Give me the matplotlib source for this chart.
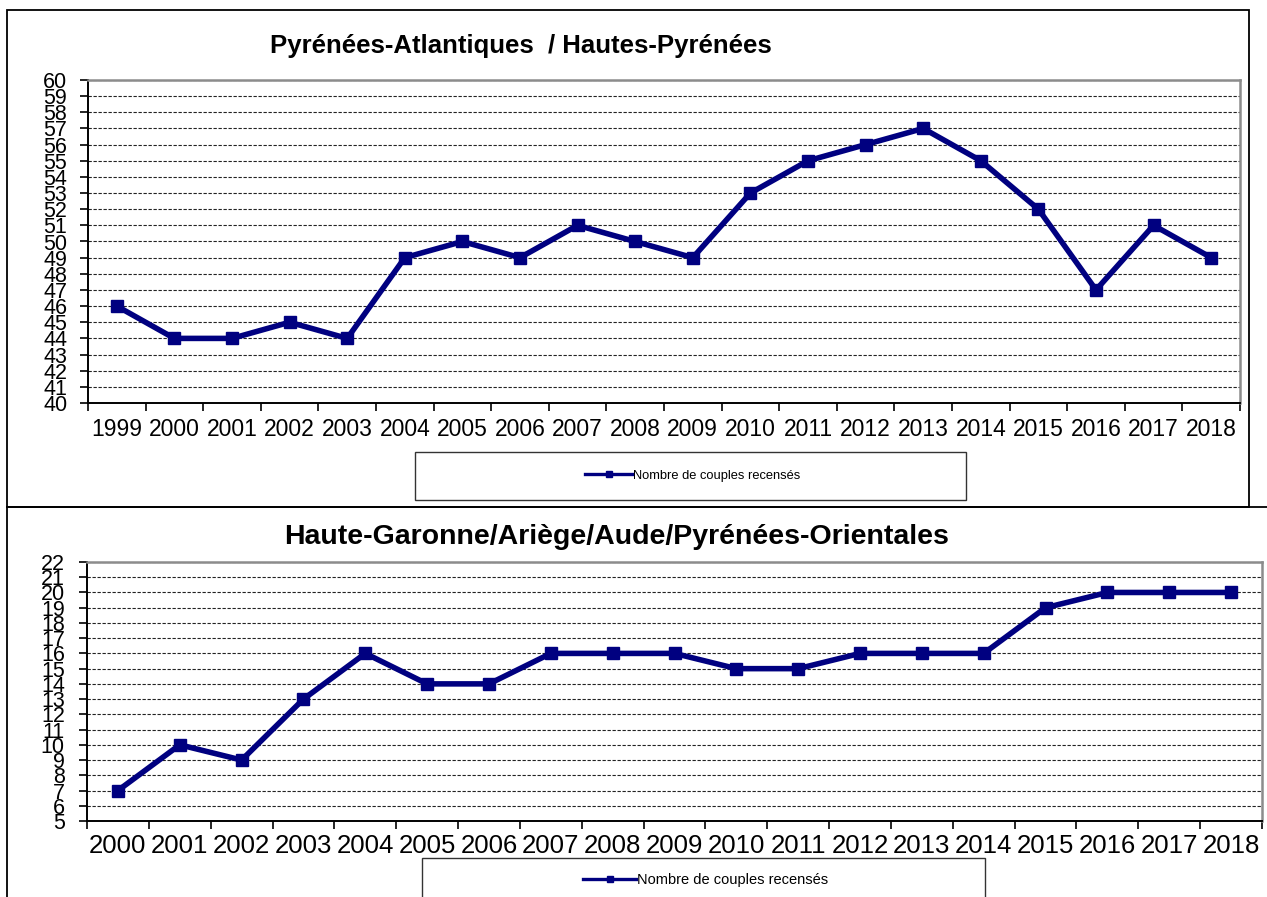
import matplotlib
matplotlib.use('Agg')
import matplotlib.pyplot as plt
from matplotlib.lines import Line2D
from matplotlib.patches import Rectangle

# data
years_top = ['1999', '2000', '2001', '2002', '2003', '2004', '2005', '2006', '2007', '2008',
             '2009', '2010', '2011', '2012', '2013', '2014', '2015', '2016', '2017', '2018']
couples_top = [46, 44, 44, 45, 44, 49, 50, 49, 51, 50, 49, 53, 55, 56, 57, 55, 52, 47, 51, 49]

years_bot = ['2000', '2001', '2002', '2003', '2004', '2005', '2006', '2007', '2008', '2009',
             '2010', '2011', '2012', '2013', '2014', '2015', '2016', '2017', '2018']
couples_bot = [7, 10, 9, 13, 16, 14, 14, 16, 16, 16, 15, 15, 16, 16, 16, 19, 20, 20, 20]

title_top = 'Pyrénées-Atlantiques  / Hautes-Pyrénées'
title_bot = 'Haute-Garonne/Ariège/Aude/Pyrénées-Orientales'
series_name = 'Nombre de couples recensés'

plt.rcParams['font.family'] = ['Liberation Sans', 'DejaVu Sans']

W, H = 1267, 897
NAVY = '#000080'
fig = plt.figure(figsize=(W / 100, H / 100), dpi=100)


def box(x0, y0, x1, y1):
    # pixel box (top-left origin) -> figure fraction rect
    return [x0 / W, 1 - y1 / H, (x1 - x0) / W, (y1 - y0) / H]


def frame(x0, y0, x1, y1, **kw):
    r = box(x0, y0, x1, y1)
    fig.add_artist(Rectangle(r[:2], r[2], r[3], transform=fig.transFigure,
                             fill=False, **kw))


def line(xs, ys, **kw):
    fig.add_artist(Line2D([x / W for x in xs], [1 - y / H for y in ys], **kw))


def draw_chart(rect, years, values, ylo, yhi, title, title_xy, title_fs,
               xfs, xpad, ypad, leg_box, leg_xy, leg_fs):
    ax = fig.add_axes(box(*rect))
    n = len(years)
    ax.plot(range(n), values, color=NAVY, lw=4, marker='s', ms=9,
            solid_joinstyle='miter', zorder=3)
    ax.set_xlim(-0.5, n - 0.5)
    ax.set_ylim(ylo, yhi)
    ax.set_yticks(range(ylo, yhi + 1))
    ax.set_yticklabels([str(v) for v in range(ylo, yhi + 1)], fontsize=15.5)
    # category ticks sit between the years, labels in the middle
    ax.set_xticks([i - 0.5 for i in range(n + 1)])
    ax.set_xticklabels([])
    ax.set_xticks(range(n), minor=True)
    ax.set_xticklabels(years, minor=True, fontsize=xfs)
    ax.tick_params(axis='x', which='minor', length=0, pad=xpad)
    ax.tick_params(axis='x', which='major', length=6, width=1.2, direction='out')
    ax.tick_params(axis='y', length=6, width=1.2, direction='out', pad=ypad)
    ax.grid(axis='y', which='major', color='#222222', lw=0.8, ls=(0, (3, 1.5)))
    ax.set_axisbelow(True)
    for s in ('top', 'right'):
        ax.spines[s].set_color('#8c8c8c')
        ax.spines[s].set_linewidth(1.8)
    for s in ('left', 'bottom'):
        ax.spines[s].set_color('black')
        ax.spines[s].set_linewidth(1.4)

    fig.text(title_xy[0] / W, 1 - title_xy[1] / H, title, ha='center', va='center',
             fontsize=title_fs, fontweight='bold')

    frame(*leg_box, ec='#333333', lw=1)
    handle = Line2D([], [], color=NAVY, lw=2.4, marker='s', ms=4.5)
    fig.legend([handle], [series_name], loc='center',
               bbox_to_anchor=(leg_xy[0] / W, 1 - leg_xy[1] / H),
               frameon=False, fontsize=leg_fs, handlelength=3.6, handletextpad=0.1)
    return ax


draw_chart((88, 80, 1240, 403), years_top, couples_top, 40, 60,
           title_top, (521, 46), 18.5, 16.5, 11, 9,
           (415, 452, 966, 500), (693, 476), 9.3)
draw_chart((87, 562, 1262, 821), years_bot, couples_bot, 5, 22,
           title_bot, (617, 537), 20.5, 18.5, 9, 10,
           (422, 858, 985, 905), (706, 880), 10.5)

# outer chart frames
frame(7, 10, 1249, 507, ec='black', lw=1.3)
line([7, 1267], [507, 507], color='black', lw=1.3)
line([7, 7], [507, 897], color='black', lw=1.3)

fig.savefig('out.png', dpi=100)
